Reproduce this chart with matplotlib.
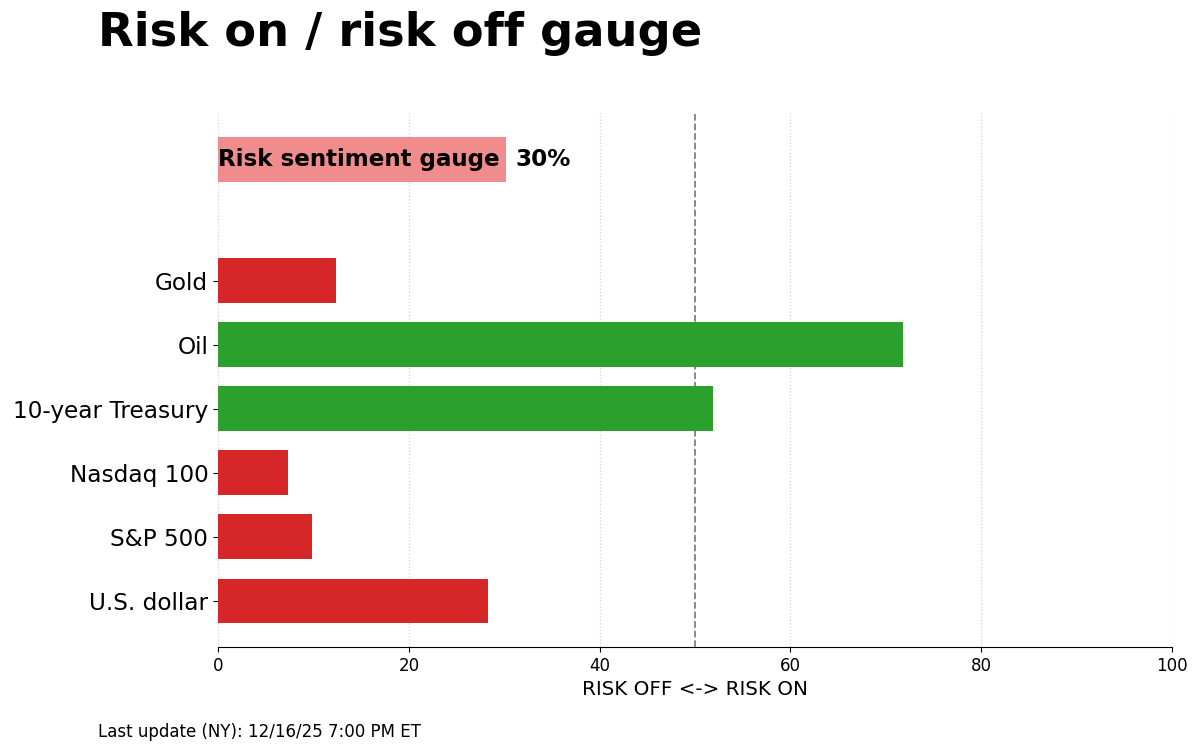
import matplotlib
matplotlib.use("Agg")
import matplotlib.pyplot as plt

assets = ["U.S. dollar", "S&P 500", "Nasdaq 100", "10-year Treasury", "Oil", "Gold"]
scores = [28.3, 9.85, 7.3, 51.9, 71.8, 12.4]
gauge_value = 30.2
gauge_label = "Risk sentiment gauge"
updated = "Last update (NY): 12/16/25 7:00 PM ET"

red = "#d62728"
green = "#2ca02c"

fig = plt.figure(figsize=(12, 7.52), dpi=100)
ax = fig.add_axes([0.1817, 0.1396, 0.795, 0.7101])

ypos = list(range(len(assets)))
colors = [green if s >= 50 else red for s in scores]
ax.barh(ypos, scores, height=0.7, color=colors, zorder=2)

# overall gauge bar above the assets
gy = 6.9
ax.barh([gy], [gauge_value], height=0.7, color="lightcoral", alpha=0.9, zorder=2)
ax.text(0, gy, gauge_label, va="center", ha="left", fontsize=16.6,
        fontweight="bold", zorder=3)
ax.text(gauge_value + 1, gy, f"{gauge_value:.0f}%", va="center", ha="left",
        fontsize=16.6, fontweight="bold", zorder=3)

ax.axvline(50, color="gray", linestyle="--", linewidth=1.3, zorder=1)

ax.set_xlim(0, 100)
ax.set_ylim(-0.72, 7.62)
ax.set_yticks(ypos)
ax.set_yticklabels(assets, fontsize=16.7)
ax.tick_params(axis="x", labelsize=12)
ax.set_xlabel("RISK OFF <-> RISK ON", fontsize=14.3)
ax.grid(axis="x", linestyle=":", color="lightgray", linewidth=0.9, zorder=0)
ax.set_axisbelow(True)
for side in ["top", "right", "left"]:
    ax.spines[side].set_visible(False)

fig.text(0.082, 0.955, "Risk on / risk off gauge", fontsize=33.4,
         fontweight="bold", va="center", ha="left")
fig.text(0.082, 0.027, updated, fontsize=12, va="center", ha="left")

fig.savefig("out.png", dpi=100)
